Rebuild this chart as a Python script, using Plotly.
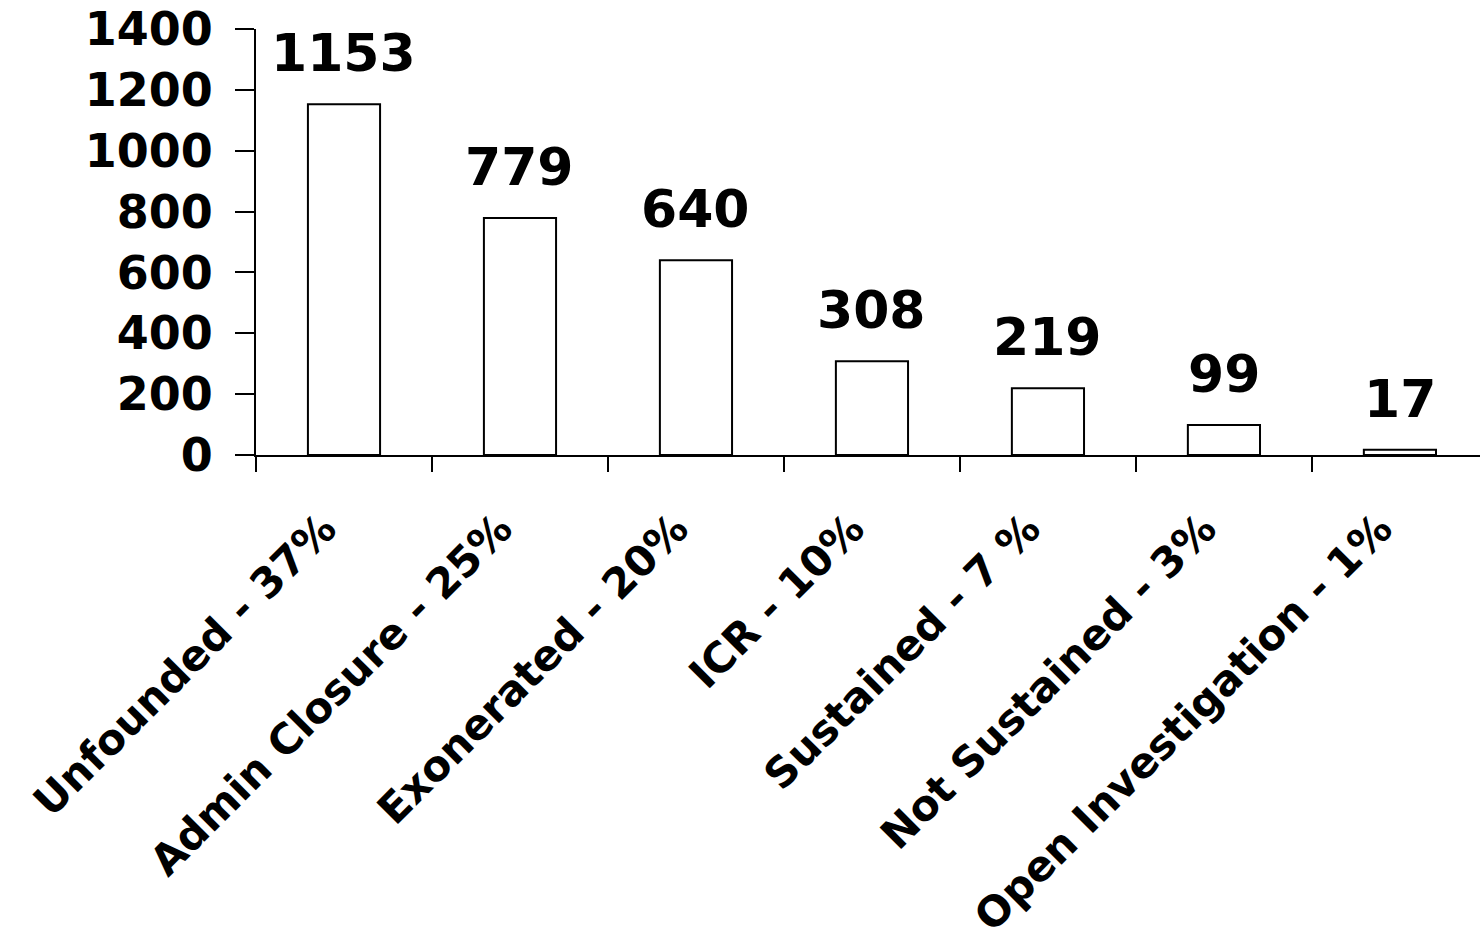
import plotly.graph_objects as go

categories = ["Unfounded - 37%", "Admin Closure - 25%", "Exonerated - 20%", "ICR - 10%",
              "Sustained - 7 %", "Not Sustained - 3%", "Open Investigation - 1%"]
values = [1153, 779, 640, 308, 219, 99, 17]
y_ticks = [0, 200, 400, 600, 800, 1000, 1200, 1400]

FONT = "DejaVu Sans"

fig = go.Figure()
fig.add_trace(go.Bar(
    x=categories, y=values, width=0.41,
    marker=dict(color="white", line=dict(color="black", width=2)),
    showlegend=False,
))

for c, v in zip(categories, values):
    fig.add_annotation(x=c, y=v, text=f"<b>{v}</b>", showarrow=False,
                       yanchor="bottom", yshift=19,
                       font=dict(family=FONT, size=52, color="black"))

fig.update_layout(
    width=1480, height=942,
    margin=dict(l=256, r=0, t=29, b=487, autoexpand=False),
    paper_bgcolor="white", plot_bgcolor="white",
    font=dict(family=FONT, color="black"),
    bargap=0.59,
)
fig.update_xaxes(
    range=[-0.5, 6.455], showline=True, linecolor="black", linewidth=2,
    ticks="outside", tickson="boundaries", ticklen=15, tickwidth=2, tickcolor="black",
    tickangle=-45, tickfont=dict(family=FONT, size=42, color="black"),
    ticklabelstandoff=30, ticklabelshift=-20, showgrid=False, automargin=False,
    tickvals=categories, ticktext=[f"<b>{c}</b>" for c in categories],
)
fig.update_yaxes(
    range=[0, 1400], showline=True, linecolor="black", linewidth=2,
    ticks="outside", ticklen=19, tickwidth=2, tickcolor="black",
    tickvals=y_ticks, ticktext=[f"<b>{t}</b>" for t in y_ticks],
    tickfont=dict(family=FONT, size=46, color="black"),
    ticklabelstandoff=13, showgrid=False, zeroline=False, automargin=False,
)

fig.write_html("out.html")
